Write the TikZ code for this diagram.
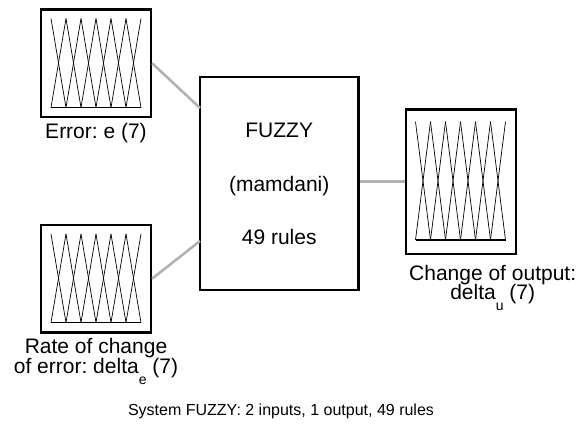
\documentclass[tikz,border=0pt]{standalone}
\usepackage{fontspec}
\setmainfont{Liberation Sans}
\frenchspacing
\definecolor{linkgray}{RGB}{178,178,178}
\tikzset{
  varbox/.style={draw=black, line width=2.2pt, inner sep=0pt, minimum width=110pt},
  fisbox/.style={draw=black, line width=2.2pt, inner sep=0pt, minimum width=158.5pt, minimum height=212.5pt},
  mf/.style={line width=0.7pt, black},
  mfbase/.style={line width=1.6pt, black},
  link/.style={draw=linkgray, line width=2.6pt},
  lbl/.style={inner sep=0pt, anchor=base, font=\fontsize{21}{24}\selectfont},
  captext/.style={inner sep=0pt, anchor=base, font=\fontsize{16}{19}\selectfont}
}
% seven triangular membership functions, peaks 15 units apart
\newcommand\mfgrid[3]{%
  \foreach \i in {0,...,5}{
    \draw[mf] ({#1+15*\i},#2) -- ({#1+15*\i+15},#3);
    \draw[mf] ({#1+15*\i},#3) -- ({#1+15*\i+15},#2);
  }
  \draw[mfbase] (#1,#3) -- ({#1+90},#3);
}
\newcommand\subidx[1]{\raisebox{-11pt}{\fontsize{14}{14}\selectfont #1}}
\begin{document}
\begin{tikzpicture}[x=1pt, y=-1pt]
  \useasboundingbox (0,0) rectangle (587,432);

  % variable boxes and the inference block
  \node[varbox, minimum height=107.5pt] (e)  at (96,63.2) {};
  \node[varbox, minimum height=107.5pt] (de) at (96,278.7) {};
  \node[varbox, minimum height=144.5pt] (du) at (460.6,181.7) {};
  \node[fisbox] (fis) at (279.2,183.6) {};

  % connections
  \coordinate (fin1) at (200,108);
  \coordinate (fin2) at (200,241);
  \draw[link] (e.east) -- (fin1);
  \draw[link] (de.east) -- (fin2);
  \draw[link] (fis.east |- du.west) -- (du.west);

  % membership functions
  \mfgrid{51}{18.5}{107.5}
  \mfgrid{51}{234}{322.5}
  \mfgrid{415.5}{121.7}{240}

  % block text
  \node[lbl] (fname) at (279.2,137.5) {FUZZY};
  \node[lbl] (ftype) at (279.2,191) {(mamdani)};
  \node[lbl] (frules) at (279.2,244.5) {49 rules};

  % variable labels
  \node[lbl] (le) at (96,138) {Error: e (7)};
  \node[lbl] (lde1) at (96,353.5) {Rate of change};
  \node[lbl] (lde2) at (96,373) {of error: delta\subidx{e} (7)};
  \node[lbl, anchor=base west] (ldu1) at (409,280) {Change of output:};
  \node[lbl] (ldu2) at ([yshift=-19pt]ldu1.base) {delta\subidx{u} (7)};

  % caption
  \node[captext] (caption) at (281,415) {System FUZZY: 2 inputs, 1 output, 49 rules};
\end{tikzpicture}
\end{document}
